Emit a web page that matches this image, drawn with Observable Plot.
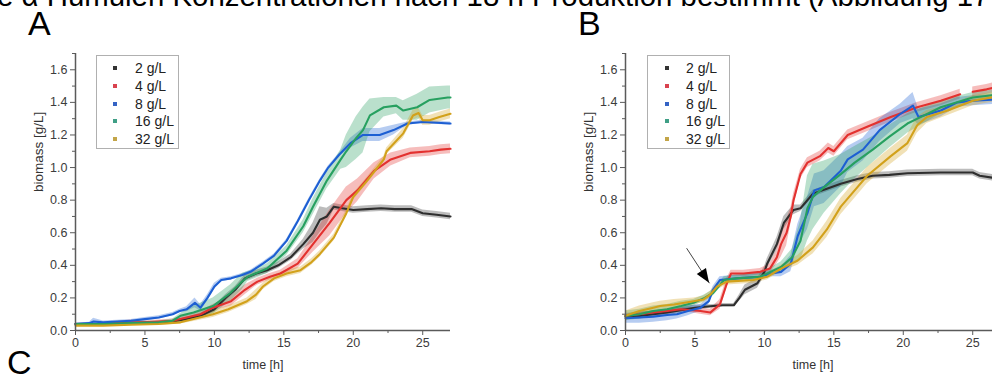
<!DOCTYPE html>
<html><head><meta charset="utf-8">
<script src="https://cdn.jsdelivr.net/npm/d3@7"></script>
<script src="https://cdn.jsdelivr.net/npm/@observablehq/plot@0.6"></script>
<style>
html,body{margin:0;padding:0;background:#fff;}
body{width:992px;height:378px;overflow:hidden;position:relative;font-family:"Liberation Sans",Arial,sans-serif;}
.abs{position:absolute;}
.legend{position:absolute;border:1px solid #b0b0b0;background:#fff;box-sizing:border-box;width:83px;height:94px;}
.legend .row{position:absolute;left:0;height:18px;line-height:18px;font-size:14px;color:#222;white-space:nowrap;}
.legend .sw{position:absolute;width:4px;height:4px;top:7px;}
.legend .lab{position:absolute;}
</style></head><body>
<svg class="abs" id="page" width="992" height="378" style="left:0;top:0"></svg>
<script>
// ---- categories, colours, ticks, labels ----
const concs = ["2 g/L", "4 g/L", "8 g/L", "16 g/L", "32 g/L"];
const lineColors = ["#2e2e2e", "#e3312f", "#1d5fd3", "#27a060", "#d2a11b"];
const swatchColors = ["#333333", "#d9434f", "#3563c4", "#3f9f86", "#c3a548"];
const xMajor = [0, 5, 10, 15, 20, 25];
const xMinor = [2.5, 7.5, 12.5, 17.5, 22.5];
const yMajor = [0, 0.2, 0.4, 0.6, 0.8, 1.0, 1.2, 1.4, 1.6];
const yMinor = [0.1, 0.3, 0.5, 0.7, 0.9, 1.1, 1.3, 1.5, 1.7];
const yTitle = ["biomass [g/L]"];
const xTitle = ["time [h]"];
const headerText = "e α Humulen Konzentrationen nach 18 h Produktion bestimmt (Abbildung 17";
const panelLetters = ["A", "B", "C"];

// ---- Panel A series: [time h, mean biomass g/L, sd] ----
const a2 = [[0,0.04,0.005],[2,0.04,0.005],[4,0.045,0.005],[6,0.05,0.006],[7,0.055,0.008],[8,0.07,0.01],[9,0.09,0.015],[10,0.13,0.02],[10.8,0.2,0.02],[11.5,0.25,0.02],[12.2,0.32,0.02],[13,0.35,0.02],[13.8,0.37,0.02],[14.6,0.4,0.02],[15.5,0.45,0.02],[16.4,0.53,0.03],[17.1,0.6,0.06],[17.6,0.68,0.08],[18.1,0.7,0.05],[18.6,0.76,0.02],[19.2,0.75,0.02],[20,0.74,0.02],[21,0.745,0.02],[22,0.75,0.02],[23,0.745,0.02],[24.2,0.745,0.02],[25,0.72,0.02],[26,0.71,0.02],[27,0.70,0.02]];
const a4 = [[0,0.04,0.005],[2,0.04,0.005],[3.9,0.05,0.015],[5,0.05,0.01],[6,0.055,0.01],[7,0.06,0.01],[8,0.08,0.015],[9,0.1,0.02],[9.9,0.14,0.02],[11.2,0.18,0.03],[12.2,0.25,0.03],[13.1,0.3,0.02],[14,0.33,0.02],[14.75,0.35,0.02],[16,0.41,0.03],[17.1,0.53,0.05],[18.3,0.66,0.08],[19.5,0.8,0.08],[20.3,0.86,0.07],[21.5,0.98,0.05],[22.7,1.05,0.04],[24.1,1.09,0.03],[25.5,1.1,0.03],[26.3,1.11,0.03],[27,1.115,0.03]];
const a8 = [[0,0.04,0.005],[1,0.045,0.005],[1.3,0.055,0.02],[2,0.05,0.008],[3,0.055,0.008],[4,0.06,0.008],[5,0.07,0.01],[6,0.08,0.01],[7,0.1,0.01],[7.5,0.12,0.01],[8,0.13,0.015],[8.6,0.17,0.03],[9,0.14,0.02],[9.5,0.2,0.02],[10,0.27,0.02],[10.5,0.31,0.01],[11.2,0.32,0.01],[12,0.34,0.01],[12.6,0.36,0.01],[13.5,0.41,0.01],[14.3,0.46,0.01],[15.2,0.55,0.01],[16,0.67,0.01],[16.8,0.8,0.01],[17.6,0.92,0.01],[18.2,1.0,0.01],[19,1.08,0.01],[19.8,1.15,0.03],[20.7,1.2,0.04],[21.9,1.2,0.04],[22.9,1.23,0.03],[23.9,1.27,0.01],[25,1.28,0.01],[27,1.27,0.01]];
const a16 = [[0,0.04,0.005],[2,0.04,0.005],[4,0.045,0.005],[6,0.05,0.008],[7,0.06,0.01],[7.55,0.09,0.015],[8.5,0.11,0.04],[9.9,0.15,0.05],[11.15,0.23,0.05],[12,0.3,0.05],[12.4,0.33,0.03],[13.8,0.38,0.03],[15.2,0.49,0.03],[16.4,0.64,0.04],[17.1,0.76,0.05],[18.1,0.92,0.05],[19.1,1.05,0.06],[19.5,1.1,0.1],[20.2,1.18,0.13],[20.7,1.23,0.14],[21.2,1.32,0.1],[22.2,1.37,0.06],[23.1,1.38,0.05],[23.6,1.35,0.06],[24.6,1.37,0.08],[25.5,1.415,0.08],[26.8,1.43,0.07],[27,1.43,0.07]];
const a32 = [[0,0.03,0.005],[2,0.03,0.005],[4,0.035,0.005],[6,0.04,0.008],[7.55,0.05,0.01],[8.5,0.07,0.015],[9.9,0.1,0.02],[11,0.13,0.02],[12.35,0.18,0.02],[13,0.22,0.03],[13.5,0.27,0.02],[14.3,0.32,0.02],[15.2,0.35,0.02],[16.2,0.37,0.02],[17,0.42,0.02],[17.6,0.47,0.02],[18.6,0.57,0.02],[19.5,0.72,0.02],[20,0.82,0.02],[21,0.92,0.02],[22.2,1.05,0.02],[22.4,1.1,0.02],[23.6,1.21,0.03],[24.3,1.32,0.03],[24.7,1.335,0.03],[25,1.29,0.03],[25.5,1.29,0.03],[26.2,1.31,0.03],[27,1.33,0.03]];

// ---- Panel B series ----
const b2 = [[0,0.085,0.01],[1,0.09,0.02],[2,0.1,0.02],[3,0.11,0.02],[4,0.125,0.02],[5,0.14,0.015],[6.3,0.15,0.01],[7,0.155,0.01],[7.8,0.155,0.01],[8.2,0.2,0.02],[8.6,0.25,0.03],[9.5,0.29,0.03],[10,0.36,0.03],[10.2,0.41,0.03],[10.9,0.53,0.04],[11.4,0.66,0.04],[12.1,0.74,0.03],[12.6,0.75,0.02],[13.5,0.84,0.02],[14.5,0.87,0.02],[15.5,0.9,0.02],[16.7,0.93,0.02],[17.8,0.95,0.02],[19,0.955,0.02],[20.3,0.965,0.02],[22.7,0.97,0.02],[25,0.97,0.02],[25.5,0.95,0.02],[27,0.93,0.02]];
const b4 = [[0,0.09,0.01],[1,0.1,0.01],[2,0.11,0.01],[3,0.12,0.01],[4,0.13,0.01],[5.4,0.12,0.02],[6.1,0.11,0.02],[6.8,0.16,0.03],[7.3,0.29,0.03],[7.6,0.35,0.02],[8.5,0.35,0.02],[9.7,0.36,0.02],[10.4,0.38,0.03],[10.9,0.45,0.04],[11.2,0.53,0.08],[11.6,0.6,0.08],[11.9,0.7,0.05],[12.1,0.8,0.04],[12.6,0.96,0.03],[13.1,1.03,0.03],[14,1.07,0.03],[14.6,1.12,0.03],[15,1.1,0.03],[16,1.2,0.03],[17.4,1.25,0.03],[19.1,1.31,0.03],[21,1.37,0.03],[22.7,1.41,0.03],[24.1,1.45,0.03],[24.5,NaN,NaN],[25,1.465,0.03],[26,1.48,0.03],[27,1.5,0.03]];
const b8 = [[0,0.075,0.03],[1,0.08,0.035],[2,0.085,0.035],[3,0.095,0.035],[3.7,0.1,0.03],[4.5,0.12,0.03],[5.4,0.14,0.02],[6,0.18,0.02],[6.3,0.25,0.02],[6.8,0.31,0.02],[8,0.32,0.02],[9.7,0.33,0.02],[10.5,0.35,0.02],[11.2,0.36,0.03],[11.9,0.41,0.05],[12.4,0.58,0.07],[13.1,0.72,0.1],[13.6,0.86,0.1],[14.3,0.88,0.1],[15.5,0.98,0.1],[16,1.05,0.08],[17.1,1.11,0.07],[18.3,1.23,0.07],[19.8,1.33,0.06],[20.7,1.38,0.08],[21.1,1.31,0.05],[22.7,1.35,0.04],[23.9,1.4,0.03],[25,1.41,0.03],[27,1.42,0.03]];
const b16 = [[0,0.09,0.03],[1,0.1,0.03],[2,0.12,0.03],[3,0.13,0.03],[4,0.15,0.03],[4.9,0.17,0.02],[5.7,0.2,0.02],[6.3,0.23,0.02],[7.1,0.31,0.02],[8,0.32,0.02],[9.7,0.33,0.02],[11.2,0.39,0.03],[12,0.45,0.05],[12.6,0.55,0.12],[13.1,0.75,0.2],[13.5,0.82,0.2],[14.3,0.88,0.16],[15.5,0.96,0.12],[16.5,1.03,0.1],[17.8,1.11,0.08],[19,1.19,0.07],[20.3,1.27,0.06],[21.5,1.32,0.05],[22.7,1.37,0.04],[25,1.43,0.03],[27,1.45,0.03]];
const b32 = [[0,0.09,0.03],[1,0.12,0.03],[2,0.14,0.03],[2.5,0.15,0.03],[3.5,0.16,0.03],[4.9,0.18,0.02],[5.6,0.19,0.02],[6.1,0.22,0.02],[6.6,0.27,0.02],[7.3,0.3,0.02],[9.2,0.31,0.02],[10.2,0.33,0.02],[11.2,0.38,0.02],[12.4,0.43,0.03],[13.5,0.51,0.04],[14.5,0.62,0.05],[15.5,0.76,0.05],[16.5,0.86,0.05],[17.4,0.95,0.05],[19.1,1.07,0.05],[20.3,1.15,0.05],[21,1.26,0.05],[21.7,1.31,0.04],[23.2,1.35,0.03],[25,1.41,0.03],[27,1.44,0.03]];

// annotation arrow in panel B (data coordinates: tail -> tip)
const arrowB = [{t1: 4.4, v1: 0.505, t2: 6.05, v2: 0.29}];

function rows(list) {
  return list.flatMap((s, i) => s.map(([t, v, sd]) => ({t, v, sd, conc: concs[i]})));
}

function panel(seriesList, width, marginRight, extra) {
  const data = rows(seriesList);
  const axisColor = "#5a5a5a";
  const marks = [
    Plot.areaY(data, {x: "t", y1: d => d.v - d.sd, y2: d => d.v + d.sd, z: "conc", fill: "conc", fillOpacity: 0.32}),
    Plot.lineY(data, {x: "t", y: "v", z: "conc", stroke: "conc", strokeWidth: 2.1}),
    Plot.ruleX([0], {stroke: axisColor, strokeWidth: 1.5}),
    Plot.ruleY([0], {stroke: axisColor, strokeWidth: 1.5}),
    Plot.axisY({ticks: yMajor, tickSize: 5, tickPadding: 3, tickFormat: d => d.toFixed(1), fontSize: 12.5, color: "#3c3c3c", stroke: axisColor, label: null}),
    Plot.axisY({ticks: yMinor, tickSize: 3, stroke: axisColor, fill: "none", label: null}),
    Plot.axisX({ticks: xMajor, tickSize: 5, tickPadding: 3, fontSize: 12.5, color: "#3c3c3c", stroke: axisColor, label: null}),
    Plot.axisX({ticks: xMinor, tickSize: 3, stroke: axisColor, fill: "none", label: null}),
    Plot.text(yTitle, {frameAnchor: "left", dx: -37, rotate: -90, fontSize: 13.5, fill: "#333"}),
    Plot.text(xTitle, {frameAnchor: "bottom", dy: 38, fontSize: 12.5, fill: "#333"}),
    ...extra
  ];
  return Plot.plot({
    width, height: 338,
    marginLeft: 75, marginRight, marginTop: 13, marginBottom: 48,
    x: {domain: [0, 27]},
    y: {domain: [0, 1.7]},
    color: {domain: concs, range: lineColors},
    style: {fontFamily: "Liberation Sans, Arial, sans-serif", background: "transparent", overflow: "visible"},
    marks
  });
}

const plotA = panel([a2, a4, a8, a16, a32], 480, 30, []);
const plotB = panel([b2, b4, b8, b16, b32], 460, 10, [
  Plot.link(arrowB, {x1: "t1", y1: "v1", x2: "t2", y2: "v2", stroke: "#444", strokeWidth: 1})
]);

function place(el, left, top) {
  el.style.position = "absolute";
  el.style.left = left + "px";
  el.style.top = top + "px";
  document.body.appendChild(el);
}
place(plotA, 0, 40);
place(plotB, 550, 40);

// filled arrowhead at the tip of the annotation arrow, positioned with Plot's own scales
{
  const sx = plotB.scale("x"), sy = plotB.scale("y");
  arrowB.forEach(a => {
    const x1 = sx.apply(a.t1), y1 = sy.apply(a.v1), x2 = sx.apply(a.t2), y2 = sy.apply(a.v2);
    const ang = Math.atan2(y2 - y1, x2 - x1) * 180 / Math.PI;
    d3.select(plotB).append("path")
      .attr("d", "M0,0L-14,-5.5L-14,5.5Z")
      .attr("fill", "#000")
      .attr("transform", `translate(${x2},${y2}) rotate(${ang})`);
  });
}

// legends
function legend(left, top, swX, labX) {
  const box = document.createElement("div");
  box.className = "legend";
  box.style.left = left + "px";
  box.style.top = top + "px";
  concs.forEach((c, i) => {
    const r = document.createElement("div");
    r.className = "row";
    r.style.top = (3 + i * 17.8) + "px";
    const sw = document.createElement("div");
    sw.className = "sw"; sw.style.left = swX + "px"; sw.style.background = swatchColors[i];
    const lab = document.createElement("div");
    lab.className = "lab"; lab.style.left = labX + "px"; lab.textContent = c;
    r.appendChild(sw); r.appendChild(lab); box.appendChild(r);
  });
  document.body.appendChild(box);
}
legend(96, 55, 16, 38);
legend(647, 55, 17, 38);

// page texts (header fragment and panel letters)
{
  const page = d3.select("#page");
  page.append("text").attr("x", -3).attr("y", 6).attr("font-size", 29.4)
    .attr("font-family", "Liberation Sans, Arial, sans-serif").attr("fill", "#000").text(headerText);
  const pos = [[28, 35], [578, 35], [7, 374]];
  panelLetters.forEach((l, i) => page.append("text").attr("x", pos[i][0]).attr("y", pos[i][1])
    .attr("font-size", 34).attr("font-family", "Liberation Sans, Arial, sans-serif").attr("fill", "#000").text(l));
}
</script>
</body></html>
